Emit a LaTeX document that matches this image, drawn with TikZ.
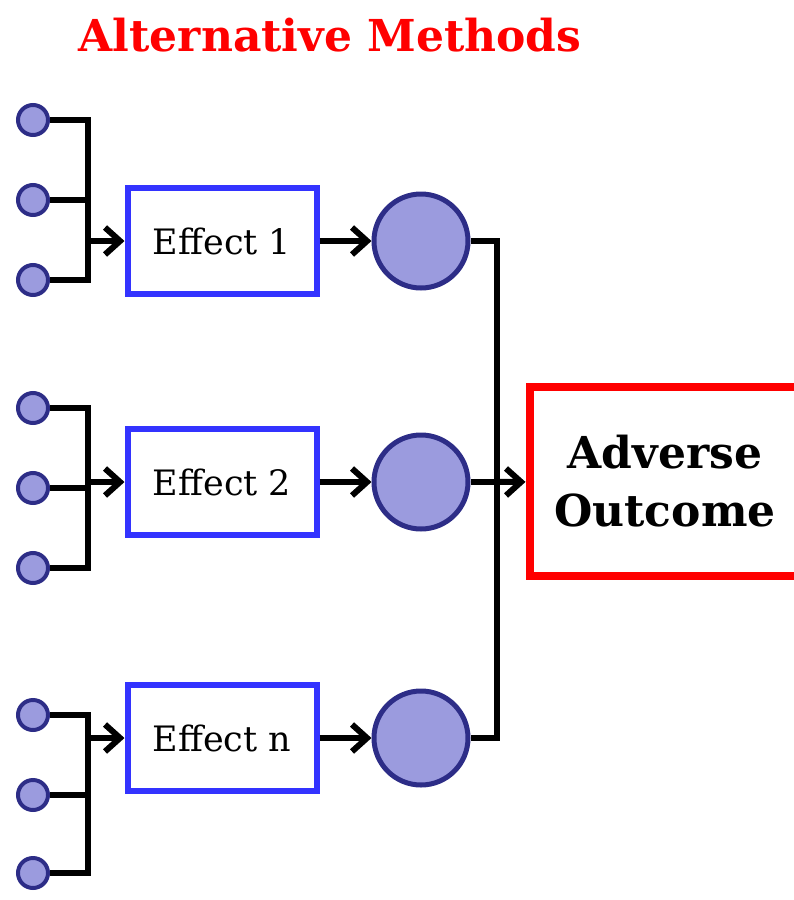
\documentclass[tikz,border=0pt]{standalone}
\usepackage{fontspec}
\setmainfont{DejaVu Serif}
\usetikzlibrary{arrows.meta,positioning,shadows}
\definecolor{effectBlue}{RGB}{51,51,255}
\definecolor{dotFill}{RGB}{155,155,222}
\definecolor{dotLine}{RGB}{45,45,135}
\definecolor{outcomeRed}{RGB}{255,0,0}
\tikzset{
  effectbox/.style={draw=effectBlue, line width=6pt, fill=white, minimum width=189pt, minimum height=106pt, inner sep=0pt, font=\fontsize{35}{40}\selectfont, drop shadow={opacity=0.35, shadow xshift=2pt, shadow yshift=-3pt}},
  outbox/.style={draw=outcomeRed, line width=8pt, fill=white, minimum width=271pt, minimum height=189pt, inner sep=0pt, align=center, font=\fontsize{44}{58}\selectfont\bfseries, drop shadow={opacity=0.35, shadow xshift=2pt, shadow yshift=-3pt}},
  dot/.style={circle, draw=dotLine, line width=4pt, fill=dotFill, minimum size=30pt, inner sep=0pt},
  bigdot/.style={dot, line width=5pt, minimum size=94pt},
  titletext/.style={text=outcomeRed, font=\fontsize{44}{50}\selectfont\bfseries, inner sep=0pt},
  link/.style={line width=6pt, draw=black},
  flow/.style={link, -{Straight Barb[length=15pt, width=27pt]}}
}

\begin{document}
\begin{tikzpicture}[x=1pt, y=-1pt]
        \useasboundingbox (0,0) rectangle (793,900);
        \node[titletext, anchor=base] (title) at (330,51) {Alternative Methods};
        % effect boxes
        \node[effectbox] (e1) at (222,241) {Effect 1};
        \node[effectbox] (e2) at (222,482) {Effect 2};
        \node[effectbox] (en) at (222,738) {Effect n};
        \node[bigdot, right=52pt of e1] (c1) {};
        \node[bigdot, right=52pt of e2] (c2) {};
        \node[bigdot, right=52pt of en] (cn) {};
        \node[outbox] (out) at (665,481.5) {Adverse\\Outcome};
        % inputs
        \node[dot] (a1) at (33,120) {};
        \node[dot] (a2) at (33,200) {};
        \node[dot] (a3) at (33,280) {};
        \node[dot] (b1) at (33,408) {};
        \node[dot] (b2) at (33,488) {};
        \node[dot] (b3) at (33,568) {};
        \node[dot] (n1) at (33,715) {};
        \node[dot] (n2) at (33,795) {};
        \node[dot] (n3) at (33,873) {};
        \coordinate (ja) at (88,241);
        \coordinate (jb) at (88,482);
        \coordinate (jn) at (88,738);
        \coordinate (jo) at (497,482);
        \draw[link] (a1) -| (ja) |- (a3);
        \draw[link] (a2) -- (a2 -| ja);
        \draw[flow] (ja) -- (e1);
        \draw[link] (b1) -| (jb) |- (b3);
        \draw[link] (b2) -- (b2 -| jb);
        \draw[flow] (jb) -- (e2);
        \draw[link] (n1) -| (jn) |- (n3);
        \draw[link] (n2) -- (n2 -| jn);
        \draw[flow] (jn) -- (en);
        \draw[flow] (e1) -- (c1);
        \draw[flow] (e2) -- (c2);
        \draw[flow] (en) -- (cn);
        \draw[link] (c1) -| (jo) |- (cn);
        \draw[link] (c2) -- (jo);
        \draw[flow] (jo) -- (out);
      \end{tikzpicture}
\end{document}
